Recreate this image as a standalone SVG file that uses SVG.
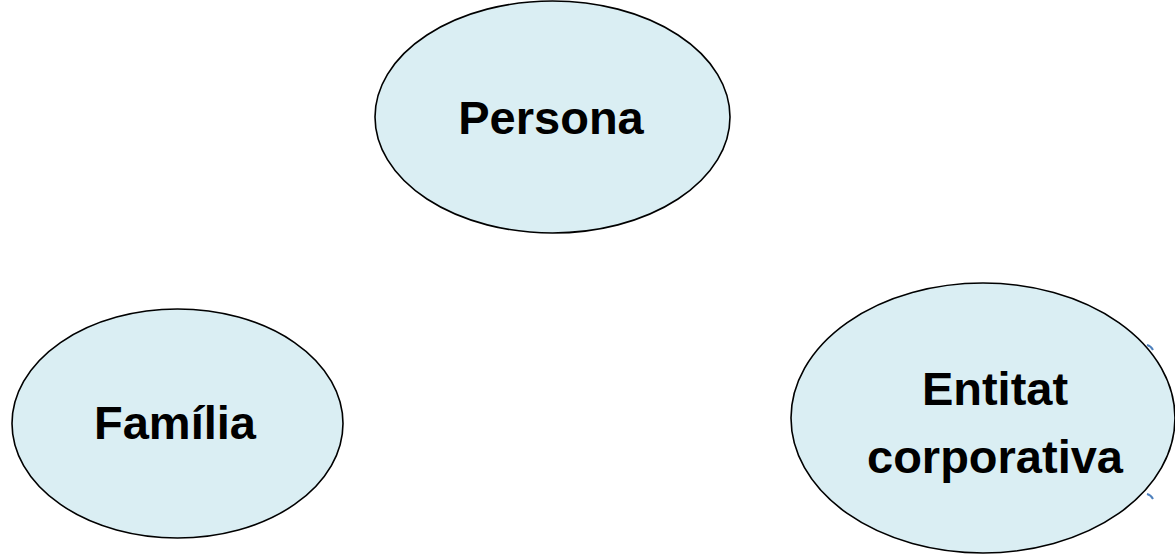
<svg xmlns="http://www.w3.org/2000/svg" width="1175" height="554" viewBox="0 0 1175 554">
  <style>
    .node { fill: #DAEEF3; stroke: #000; stroke-width: 1.6; }
    .label { font-family: "Liberation Sans", Arial, sans-serif; font-weight: bold; font-size: 47px; fill: #000; text-anchor: middle; }
    .stub { fill: none; stroke: #4F81BD; stroke-width: 2; }
  </style>
  <rect width="1175" height="554" fill="#fff"/>
  <g id="persona">
    <ellipse class="node" cx="552.5" cy="117" rx="177.5" ry="116"/>
    <text class="label" x="551" y="134">Persona</text>
  </g>
  <g id="familia">
    <ellipse class="node" cx="177.5" cy="423.5" rx="165.5" ry="114.5"/>
    <text class="label" x="175" y="439">Família</text>
  </g>
  <g id="entitat-corporativa">
    <ellipse class="node" cx="983" cy="418" rx="192" ry="135"/>
    <text class="label" x="995" y="405">Entitat</text>
    <text class="label" x="995" y="473">corporativa</text>
  </g>
  <g id="connectors">
    <path class="stub" d="M1147,345 Q1151,346 1153,350"/>
    <path class="stub" d="M1147,494 Q1151,495 1153,499"/>
  </g>
</svg>
